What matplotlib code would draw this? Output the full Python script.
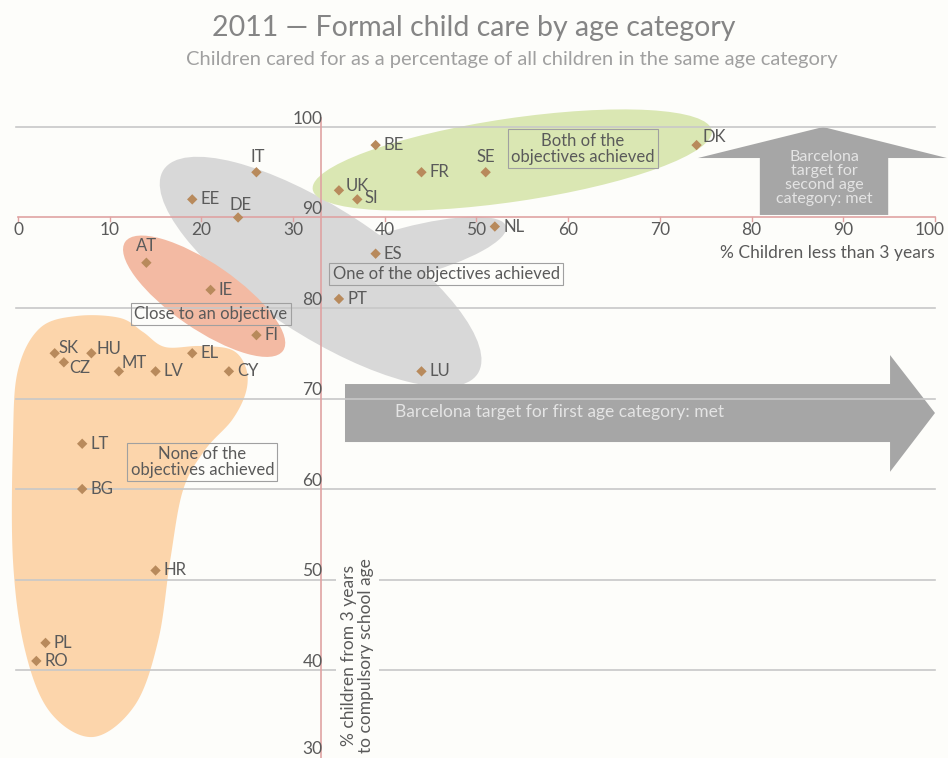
import matplotlib
matplotlib.use("Agg")
import matplotlib.pyplot as plt
import numpy as np
from matplotlib.patches import Ellipse, Polygon

plt.rcParams["font.family"] = ["Lato", "DejaVu Sans"]

# 2011 formal child care, % of children cared for
countries = ["BE", "BG", "CZ", "DK", "DE", "EE", "IE", "EL", "ES", "FR", "IT", "CY", "LV", "LT",
             "LU", "HU", "MT", "NL", "AT", "PL", "PT", "RO", "SI", "SK", "FI", "SE", "UK", "HR"]
under3 = [39, 7, 5, 74, 24, 19, 21, 19, 39, 44, 26, 23, 15, 7,
          44, 8, 11, 52, 14, 3, 35, 2, 37, 4, 26, 51, 35, 15]
over3 = [98, 60, 74, 98, 90, 92, 82, 75, 86, 95, 95, 73, 73, 65,
         73, 75, 73, 89, 85, 43, 81, 41, 92, 75, 77, 95, 93, 51]

x_ticks = [0, 10, 20, 30, 40, 50, 60, 70, 80, 90, 100]
y_ticks = [30, 40, 50, 60, 70, 80, 90, 100]
target_under3 = 33
target_over3 = 90

# label placement: (dx pt, dy pt, ha, va)
label_pos = {
    "IT": (1, 5, "center", "bottom"),
    "DE": (2, 3, "center", "bottom"),
    "AT": (0, 6, "center", "bottom"),
    "SE": (0, 5, "center", "bottom"),
    "DK": (4, 6, "left", "center"),
    "SK": (3, 4, "left", "center"),
    "HU": (4, 3, "left", "center"),
    "CZ": (4, -4, "left", "center"),
    "MT": (2, 6, "left", "center"),
    "UK": (5, 3, "left", "center"),
    "SI": (5, 1, "left", "center"),
}

BG = "#fdfdfa"
TXT = "#5a5a5a"
RED = "#dfa3a3"
GRID = "#c8c8c8"
ARROW = "#a6a6a6"
FS = 12


def smooth_closed(pts, n=24):
    pts = np.asarray(pts, dtype=float)
    m = len(pts)
    t = np.linspace(0, 1, n, endpoint=False)[:, None]
    out = []
    for i in range(m):
        p0, p1, p2, p3 = pts[(i - 1) % m], pts[i], pts[(i + 1) % m], pts[(i + 2) % m]
        out.append(0.5 * (2 * p1 + (-p0 + p2) * t + (2 * p0 - 5 * p1 + 4 * p2 - p3) * t ** 2
                          + (-p0 + 3 * p1 - 3 * p2 + p3) * t ** 3))
    return np.vstack(out)


fig = plt.figure(figsize=(9.48, 7.58), dpi=100, facecolor=BG)
ax = fig.add_axes([0, 0, 1, 1])
ax.set_facecolor(BG)
ax.set_xlim(-1.963, 101.42)
ax.set_ylim(30.28, 114.03)
ax.axis("off")

# group blobs
ax.add_patch(Ellipse((33.0, 84.0), 41.0, 14.0, angle=-33.4, fc="#d8d8d8", ec="none", zorder=1))
ax.add_patch(Ellipse((42.7, 86.2), 21.8, 5.5, angle=15, fc="#d8d8d8", ec="none", zorder=1))
ax.add_patch(Ellipse((53.9, 96.35), 44, 9.2, angle=8.5, fc="#dae7b3", ec="none", zorder=2))
orange = [(6.43, 79.12), (11.12, 78.9), (13.63, 77.35), (16.03, 75.69), (19.85, 75.8),
          (23.34, 75.36), (24.86, 73.37), (24.86, 70.72), (23.34, 67.62), (20.39, 64.31),
          (18.0, 59.89), (16.6, 52.15), (15.3, 43.31), (12.76, 36.13), (8.18, 32.6),
          (3.49, 35.36), (0.76, 42.21), (-0.55, 52.15), (-0.55, 65.41), (0.0, 73.15),
          (2.4, 77.79)]
ax.add_patch(Polygon(smooth_closed(orange), closed=True, fc="#fcd5ab", ec="none", zorder=2))
ax.add_patch(Ellipse((20.3, 81.3), 21.0, 7.2, angle=-35, fc="#f3baa3", ec="none", zorder=3))

# Barcelona target arrows
right_arrow = [(35.66, 71.6), (95.1, 71.6), (95.1, 74.8), (100.0, 68.4),
               (95.1, 61.9), (95.1, 65.19), (35.66, 65.19)]
ax.add_patch(Polygon(right_arrow, closed=True, fc=ARROW, ec="none", zorder=3))
up_arrow = [(80.9, 90.28), (80.9, 96.57), (74.15, 96.57), (87.8, 100.0),
            (101.3, 96.57), (94.9, 96.57), (94.9, 90.28)]
ax.add_patch(Polygon(up_arrow, closed=True, fc=ARROW, ec="none", zorder=3))
ax.text(59.0, 68.5, "Barcelona target for first age category: met", ha="center", va="center",
        fontsize=12.5, color="#e4e4e4", zorder=4)
ax.text(87.9, 94.4, "Barcelona\ntarget for\nsecond age\ncategory: met", ha="center", va="center",
        fontsize=11.5, color="#e4e4e4", linespacing=1.0, zorder=4)

# gridlines and axes
for v in y_ticks[1:]:
    if v == target_over3:
        continue
    ax.plot([-0.2, 100], [v, v], color=GRID, lw=1.2, zorder=5)
ax.plot([0, 100], [target_over3, target_over3], color=RED, lw=1.2, zorder=5)
ax.plot([target_under3, target_under3], [29, 101], color=RED, lw=1.2, zorder=5)

for v in x_ticks:
    ax.plot([v, v], [target_over3, target_over3 - 0.35], color=RED, lw=1, zorder=5)
    ax.text(min(v, 99.4), target_over3 - 0.55, str(v), ha="center", va="top", fontsize=12.5,
            color=TXT, zorder=6)
for v in y_ticks:
    ax.text(target_under3 + 0.2, max(v + 0.05, 30.4), str(v), ha="right", va="bottom",
            fontsize=12.5, color=TXT, zorder=6)

ax.text(100, 86.1, "% Children less than 3 years", ha="right", va="center", fontsize=12.5,
        color=TXT, zorder=6)
ax.text(37.0, 30.8, "% children from 3 years\nto compulsory school age", rotation=90,
        ha="center", va="bottom", fontsize=12.5, color=TXT, linespacing=1.05, zorder=6,
        bbox=dict(boxstyle="square,pad=0.3", fc=BG, ec="none"))

# group captions
box = dict(boxstyle="square,pad=0.2", fc="none", ec="#a0a0a0", lw=0.8)
ax.text(61.6, 97.6, "Both of the\nobjectives achieved", ha="center", va="center", fontsize=FS,
        color=TXT, linespacing=1.0, bbox=box, zorder=6)
ax.text(46.7, 83.76, "One of the objectives achieved", ha="center", va="center", fontsize=FS,
        color=TXT, bbox=box, zorder=6)
ax.text(21.05, 79.34, "Close to an objective", ha="center", va="center", fontsize=FS,
        color=TXT, bbox=box, zorder=6)
ax.text(20.1, 63.0, "None of the\nobjectives achieved", ha="center", va="center", fontsize=FS,
        color=TXT, linespacing=1.0, bbox=box, zorder=6)

# country points
ax.scatter(under3, over3, marker="D", s=28, color="#b88a5c", edgecolor="none", zorder=7)
for name, xv, yv in zip(countries, under3, over3):
    dx, dy, ha, va = label_pos.get(name, (6, 0, "left", "center"))
    ax.annotate(name, (xv, yv), xytext=(dx, dy), textcoords="offset points", ha=ha, va=va,
                fontsize=FS, color=TXT, zorder=8)

fig.text(0.5, 0.963, "2011 \u2014 Formal child care by age category", ha="center", va="center",
         fontsize=20.5, color="#858585")
fig.text(0.54, 0.921, "Children cared for as a percentage of all children in the same age category",
         ha="center", va="center", fontsize=14.5, color="#a0a0a0")

fig.savefig("out.png", dpi=100, facecolor=BG)
